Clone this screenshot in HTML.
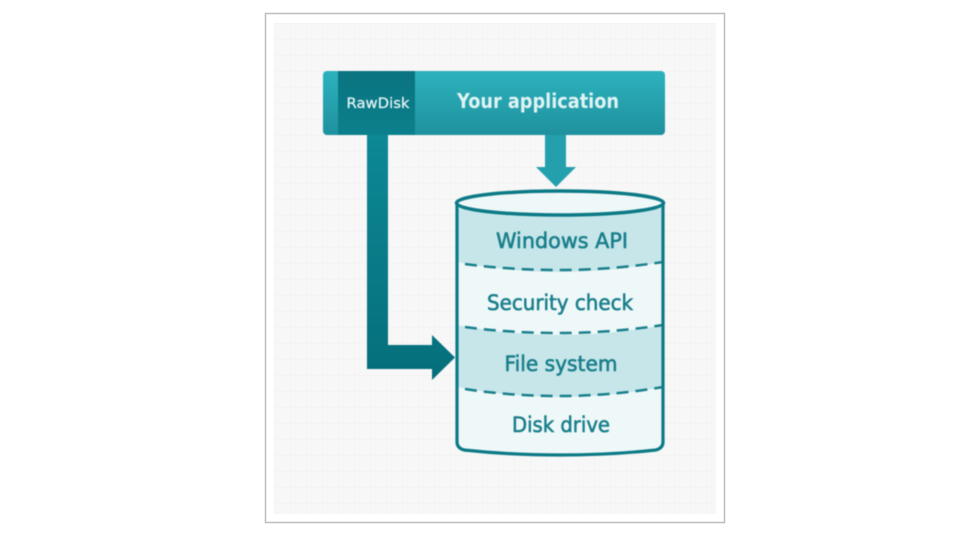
<!DOCTYPE html>
<html><head><meta charset="utf-8">
<style>
html,body{margin:0;padding:0;background:#fff;width:960px;height:540px;overflow:hidden}
svg{display:block}
text{font-family:"DejaVu Sans","Liberation Sans",sans-serif}
.blur{filter:blur(0.45px)}
</style></head><body>
<svg width="960" height="540" viewBox="0 0 960 540" xmlns="http://www.w3.org/2000/svg">
<defs>
<linearGradient id="bar" x1="0" y1="0" x2="0" y2="1"><stop offset="0" stop-color="#2cb2bd"/><stop offset="1" stop-color="#1f919e"/></linearGradient>
<linearGradient id="dark" x1="0" y1="0" x2="0" y2="1"><stop offset="0" stop-color="#0a7480"/><stop offset="1" stop-color="#0b808c"/></linearGradient>
<linearGradient id="vert" x1="0" y1="0" x2="0" y2="1"><stop offset="0" stop-color="#0d8895"/><stop offset="1" stop-color="#056f7b"/></linearGradient>
<pattern id="grid" width="16" height="16" patternUnits="userSpaceOnUse" x="274" y="23"><path d="M16 0H0V16" fill="none" stroke="#f1f1f1" stroke-width="1"/></pattern>
</defs>
<rect x="265.5" y="13.5" width="459" height="509" fill="#fff" stroke="#bdbdbd" stroke-width="1.5"/>
<rect x="274" y="23" width="442" height="491" fill="#f7f7f7"/>
<rect x="274" y="23" width="442" height="491" fill="url(#grid)"/>
<g class="blur">
<path d="M367 135H388V345H432V335L455 357.500L432 380V369H367Z" fill="url(#vert)"/>
<path d="M545 135H566V167H576L556 187L536 167H545Z" fill="#24a0ad"/>
<rect x="323" y="71" width="342" height="64" rx="4" fill="url(#bar)"/>
<rect x="338" y="71" width="77" height="64" fill="url(#dark)"/>
<text x="378" y="108" font-size="14" fill="#e8f6f7" stroke="#e8f6f7" stroke-width="0.2" text-anchor="middle" textLength="63" lengthAdjust="spacingAndGlyphs">RawDisk</text>
<text x="538" y="108" font-size="20" font-weight="bold" fill="#dff3f4" text-anchor="middle" textLength="162" lengthAdjust="spacingAndGlyphs">Your application</text>
<path d="M457 203V442Q457 448 464 450Q510 455 560 455Q610 455 656 450Q663 448 663 442V203Z" fill="#eff8f9"/>
<path d="M457 208Q510 216 560 216Q610 216 663 208V262Q610 272 560 272Q510 272 457 262Z" fill="#c6e6ea"/>
<path d="M457 325Q510 335 560 335Q610 335 663 325V387Q610 397 560 397Q510 397 457 387Z" fill="#c6e6ea"/>
<path d="M465 264Q510 270 560 270Q610 270 663 262" fill="none" stroke="#187f8b" stroke-width="2.500" stroke-dasharray="12 7"/>
<path d="M465 327Q510 333 560 333Q610 333 663 325" fill="none" stroke="#187f8b" stroke-width="2.500" stroke-dasharray="12 7"/>
<path d="M465 389Q510 396 560 396Q610 396 663 387" fill="none" stroke="#187f8b" stroke-width="2.500" stroke-dasharray="12 7"/>
<path d="M457 203V442Q457 448 464 450Q510 455 560 455Q610 455 656 450Q663 448 663 442V203" fill="none" stroke="#0c7a86" stroke-width="3.200"/>
<ellipse cx="560" cy="203" rx="103.500" ry="12" fill="#eff8f9" stroke="#0c7a86" stroke-width="3.500"/>
<g fill="#1a7f8b" stroke="#1a7f8b" stroke-width="0.6" font-size="21" text-anchor="middle">
<text x="562" y="248" textLength="132" lengthAdjust="spacingAndGlyphs">Windows API</text>
<text x="560" y="310" textLength="146" lengthAdjust="spacingAndGlyphs">Security check</text>
<text x="561" y="371" textLength="113" lengthAdjust="spacingAndGlyphs">File system</text>
<text x="561" y="432" textLength="98" lengthAdjust="spacingAndGlyphs">Disk drive</text>
</g>
</g>
</svg>
</body></html>
